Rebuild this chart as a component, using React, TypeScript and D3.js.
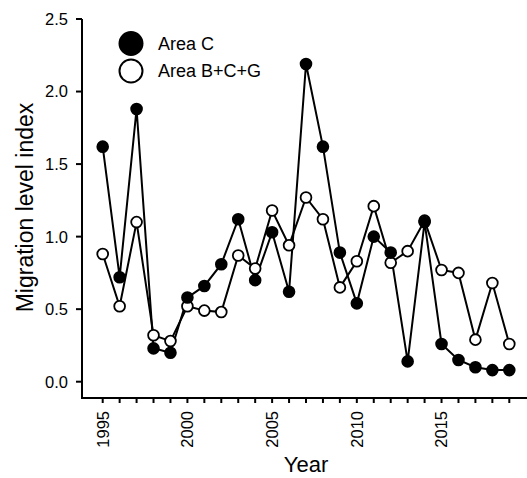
import React, { useEffect, useRef } from "react";
import * as d3 from "d3";

const years = d3.range(1995, 2020);
const areaC = [
  1.62, 0.72, 1.88, 0.23, 0.2, 0.58, 0.66, 0.81, 1.12, 0.7, 1.03, 0.62, 2.19,
  1.62, 0.89, 0.54, 1.0, 0.89, 0.14, 1.1, 0.26, 0.15, 0.1, 0.08, 0.08,
];
const areaBCG = [
  0.88, 0.52, 1.1, 0.32, 0.28, 0.52, 0.49, 0.48, 0.87, 0.78, 1.18, 0.94, 1.27,
  1.12, 0.65, 0.83, 1.21, 0.82, 0.9, 1.11, 0.77, 0.75, 0.29, 0.68, 0.26,
];
const yTicks = [0, 0.5, 1, 1.5, 2, 2.5];
const legendLabels = ["Area C", "Area B+C+G"];

const font = "'Liberation Sans', Arial, Helvetica, sans-serif";

export default function App() {
  const ref = useRef<SVGSVGElement>(null);

  useEffect(() => {
    const svg = d3.select(ref.current);
    svg.selectAll("*").remove();

    const left = 82,
      bottom = 398;
    const x = d3.scaleLinear().domain([1995, 2019]).range([102.7, 509.3]);
    const y = d3.scaleLinear().domain([0, 2.5]).range([381.7, 19]);

    // axes lines (L shaped)
    svg
      .append("path")
      .attr("d", `M${left},${y(2.5)}V${bottom}H527`)
      .attr("fill", "none")
      .attr("stroke", "#000")
      .attr("stroke-width", 2);

    const yg = svg.append("g");
    yTicks.forEach((t) => {
      yg.append("line")
        .attr("x1", left)
        .attr("x2", left - 6)
        .attr("y1", y(t))
        .attr("y2", y(t))
        .attr("stroke", "#000")
        .attr("stroke-width", 2);
      yg.append("text")
        .attr("x", left - 14)
        .attr("y", y(t))
        .attr("dy", "0.36em")
        .attr("text-anchor", "end")
        .attr("font-size", 16.5)
        .attr("font-family", font)
        .text(t.toFixed(1));
    });

    const xg = svg.append("g");
    years.forEach((yr) => {
      xg.append("line")
        .attr("x1", x(yr))
        .attr("x2", x(yr))
        .attr("y1", bottom)
        .attr("y2", bottom + 5)
        .attr("stroke", "#000")
        .attr("stroke-width", 2);
      if (yr % 5 === 0) {
        xg.append("text")
          .attr(
            "transform",
            `translate(${x(yr)},${bottom + 13}) rotate(-90)`
          )
          .attr("dy", "0.36em")
          .attr("text-anchor", "end")
          .attr("font-size", 16.5)
          .attr("font-family", font)
          .text(yr);
      }
    });

    svg
      .append("text")
      .attr("x", 306)
      .attr("y", 472)
      .attr("text-anchor", "middle")
      .attr("font-size", 22)
      .attr("font-family", font)
      .text("Year");

    svg
      .append("text")
      .attr("transform", `translate(33,207.5) rotate(-90)`)
      .attr("text-anchor", "middle")
      .attr("font-size", 23)
      .attr("font-family", font)
      .text("Migration level index");

    const line = d3
      .line<number>()
      .x((_, i) => x(years[i]))
      .y((d) => y(d));

    const series = [
      { data: areaBCG, fill: "#fff" },
      { data: areaC, fill: "#000" },
    ];
    series.forEach((s) => {
      svg
        .append("path")
        .datum(s.data)
        .attr("d", line)
        .attr("fill", "none")
        .attr("stroke", "#000")
        .attr("stroke-width", 2);
    });
    series.forEach((s) => {
      svg
        .append("g")
        .selectAll("circle")
        .data(s.data)
        .enter()
        .append("circle")
        .attr("cx", (_, i) => x(years[i]))
        .attr("cy", (d) => y(d))
        .attr("r", 5.4)
        .attr("fill", s.fill)
        .attr("stroke", "#000")
        .attr("stroke-width", 1.8);
    });

    // legend
    const lg = svg.append("g");
    legendLabels.forEach((lab, i) => {
      const cy = 43.5 + i * 27.5;
      lg.append("circle")
        .attr("cx", 131)
        .attr("cy", cy)
        .attr("r", 11.5)
        .attr("fill", i === 0 ? "#000" : "#fff")
        .attr("stroke", "#000")
        .attr("stroke-width", 2);
      lg.append("text")
        .attr("x", 158)
        .attr("y", cy)
        .attr("dy", "0.36em")
        .attr("font-size", 18)
        .attr("font-family", font)
        .text(lab);
    });
  }, []);

  return (
    <svg
      ref={ref}
      width={527}
      height={478}
      style={{ position: "absolute", left: 0, top: 0, background: "#fff" }}
    />
  );
}
